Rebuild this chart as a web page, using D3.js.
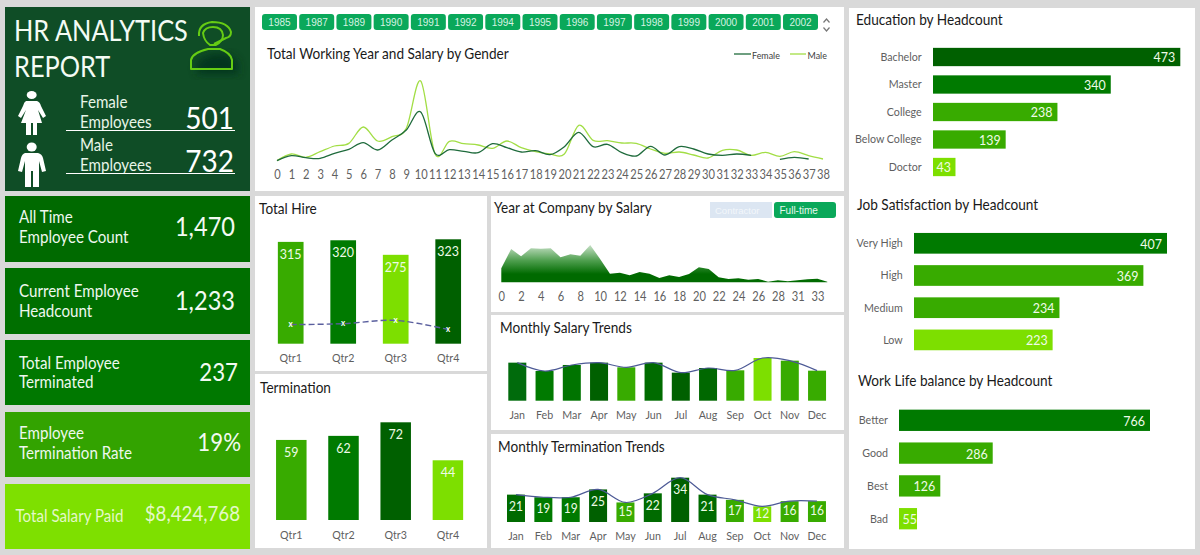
<!DOCTYPE html>
<html>
<head>
<meta charset="utf-8">
<script src="https://cdn.jsdelivr.net/npm/d3@7"></script>
<style>
  html, body { margin: 0; padding: 0; background: #d9d9d9; }
  svg { display: block; }
  text { font-family: Lato, "Open Sans", sans-serif; }
  .axis text { fill: #5f5f5f; font-family: Lato, sans-serif; }
  .axis path, .axis line { display: none; }
</style>
</head>
<body>
<svg id="dash" width="1200" height="555"></svg>
<script>
// Slicer years and KPI figures
const sliceYears = ["1985","1987","1989","1990","1991","1992","1994","1995","1996","1997","1998","1999","2000","2001","2002"];
const femaleEmployees = 501;
const maleEmployees = 732;
const kpiLabels = [["All Time","Employee Count"],["Current Employee","Headcount"],["Total Employee","Terminated"],["Employee","Termination Rate"],["Total Salary Paid"]];
const kpiValues = ["1,470","1,233","237","19%","$8,424,768"];

// Total working years vs salary by gender (salary in arbitrary thousands)
const workingYears = d3.range(0, 39).map(String);
const femaleSalary = [18,33,27,25,40,52,72,50,80,110,164,40,51,46,42,69,57,44,48,36,60,103,60,67,42,32,61,35,60,53,38,34,38,34,null,22,28,23,null];
const maleSalary = [18,38,28,45,62,70,119,77,90,115,257,38,76,69,65,55,77,57,45,38,38,124,79,78,71,70,53,40,44,35,26,49,50,34,43,31,45,33,23];

// Quarterly hires and terminations
const quarters = ["Qtr1","Qtr2","Qtr3","Qtr4"];
const hires = [315,320,275,323];
const terminations = [59,62,72,44];

// Years at company by salary
const companyYears = ["0","1","2","3","4","5","6","7","8","9","10","11","12","13","14","15","16","17","18","19","20","21","22","23","24","25","26","27","28","29","31","32","33","34"];
const companySalary = [42,100,78,102,101,102,75,84,80,112,70,26,29,21,31,26,13,21,16,25,45,40,15,10,12,8,10,2,6,3,6,9,11,2];

// Monthly trends
const months = ["Jan","Feb","Mar","Apr","May","Jun","Jul","Aug","Sep","Oct","Nov","Dec"];
const monthlySalary = [769,600,722,769,675,769,567,661,614,863,809,607];
const monthlyTerminations = [21,19,19,25,15,22,34,21,17,12,16,16];

// Headcount breakdowns
const educationLevels = ["Bachelor","Master","College","Below College","Doctor"];
const educationCounts = [473,340,238,139,43];
const satisfactionLevels = ["Very High","High","Medium","Low"];
const satisfactionCounts = [407,369,234,223];
const balanceLevels = ["Better","Good","Best","Bad"];
const balanceCounts = [766,286,126,55];

// Palette
const G1 = "#006000", G2 = "#007a00", G3 = "#38ab00", G4 = "#7ddf00";
const SLICER = "#0aa85a", BAR_LINE = "#4d5a96";
const monthlySalaryFill = ["#006b0c",G2,"#007400",G1,G3,"#006b00",G1,"#006800",G3,G4,G3,G3];
const monthlyTermFill = ["#006b00",G2,G2,G1,G3,"#006b00",G1,"#006b00",G3,G4,G3,G3];

const svg = d3.select("#dash");
const defs = svg.append("defs");

function panel(x, y, w, h, fill) {
  svg.append("rect").attr("x", x).attr("y", y).attr("width", w).attr("height", h).attr("fill", fill || "#fff");
}
function label(x, y, str, size, fill, anchor, family) {
  return svg.append("text").attr("x", x).attr("y", y).attr("dy", "0.35em")
    .attr("font-size", size).attr("fill", fill)
    .attr("text-anchor", anchor || "start")
    .attr("class", family ? "ui" : "lato")
    .style("font-family", family || null)
    .text(str);
}
function title(x, y, str) { return label(x, y, str, 15.3, "#1a1a1a"); }
// Evenly spaced bands described by first band centre, spacing and band width
function bands(domain, first, step, width) {
  const gap = 1 - width / step;
  return d3.scaleBand().domain(domain)
    .range([first - step / 2, first + step * (domain.length - 0.5)])
    .paddingInner(gap).paddingOuter(gap / 2);
}
function bottomAxis(scale, y, size, tickVals) {
  const ax = d3.axisBottom(scale).tickSize(0).tickPadding(0);
  if (tickVals) ax.tickValues(tickVals);
  const g = svg.append("g").attr("class", "axis").attr("transform", `translate(0,${y})`).call(ax);
  g.selectAll("text").attr("font-size", size).attr("y", 0).attr("dy", "0.35em").attr("class", "lato");
  return g;
}

// Panels
panel(5, 7, 245, 184, "#0f4d26");
panel(255, 7, 589, 184);
panel(255, 196, 232, 175);
panel(255, 374, 232, 174);
panel(491, 196, 353, 116);
panel(491, 315, 353, 115);
panel(491, 434, 353, 114);
panel(849, 8, 346, 541);

// Header block
label(14, 31, "HR ANALYTICS", 28.5, "#f4fbf4");
label(14, 67, "REPORT", 28.5, "#f4fbf4");

defs.append("filter").attr("id", "soft").attr("x", "-30%").attr("y", "-30%").attr("width", "160%").attr("height", "160%")
  .append("feGaussianBlur").attr("stdDeviation", 4);

// Headset agent icon with its shadow
const agentPaths = [
  "M191,69 L191,60 Q192,53 208,49 L220,49 Q231,53 232,60 L232,69 Z",
  "M203,33 Q205,27 213,27 Q222,27 223,35 Q223,41 216,45 L210,45 Q204,41 203,33 Z",
  "M199,36 Q198,24 212,22 Q228,22 231,32 Q231,37 226,38 L214,44"
];
svg.append("path").attr("d", agentPaths[0]).attr("fill", "#06301a").attr("opacity", 0.85)
  .attr("transform", "translate(6,5)").attr("filter", "url(#soft)");
agentPaths.forEach(d => svg.append("path").attr("d", d)
  .attr("fill", "none").attr("stroke", "#66cc14").attr("stroke-width", 2).attr("stroke-linejoin", "round"));

// Female figure
svg.append("ellipse").attr("cx", 31.7).attr("cy", 95).attr("rx", 5).attr("ry", 4).attr("fill", "#fff");
svg.append("path").attr("fill", "#fff")
  .attr("d", "M26,101 L37,101 Q40,102 41,106 L46,116 L43,118 L38,110 L42,123 L37,123 L37,135 L33,135 L33,123 L31,123 L31,135 L26,135 L26,123 L21,123 L26,110 L21,118 L18,116 L23,106 Q24,102 26,101 Z");
// Male figure
svg.append("ellipse").attr("cx", 31.7).attr("cy", 147).attr("rx", 5).attr("ry", 4.5).attr("fill", "#fff");
svg.append("path").attr("fill", "#fff")
  .attr("d", "M25,153 L38,153 Q42,154 43,158 L46,171 L42,172 L39,161 L39,187 L33,187 L33,171 L31,171 L31,187 L25,187 L25,161 L22,172 L18,171 L21,158 Q22,154 25,153 Z");

label(80, 102, "Female", 17, "#e8f5e8");
label(80, 122, "Employees", 17, "#e8f5e8");
label(234, 118, femaleEmployees, 31.5, "#fff", "end");
svg.append("line").attr("x1", 66).attr("x2", 235).attr("y1", 130.5).attr("y2", 130.5).attr("stroke", "#fff");
label(80, 145, "Male", 17, "#e8f5e8");
label(80, 165, "Employees", 17, "#e8f5e8");
label(234, 161, maleEmployees, 31.5, "#fff", "end");
svg.append("line").attr("x1", 66).attr("x2", 235).attr("y1", 173.5).attr("y2", 173.5).attr("stroke", "#fff");

// KPI cards
const kpiBoxes = [[196,66,"#006a00"],[268,66,"#006f00"],[340,65,"#007800"],[412,65,"#33a300"],[484,65,"#7ee000"]];
const kpiValueStyle = [[235,227,26.5],[235,301,26.5],[238,372,25],[241,442,25],[240,514,21]];
const kpiLabelY = [[217,237],[291,311],[363,382],[433,453],[516]];
kpiBoxes.forEach((b, i) => {
  panel(5, b[0], 245, b[1], b[2]);
  const lx = i === 4 ? 15.5 : 19;
  kpiLabels[i].forEach((t, j) => label(lx, kpiLabelY[i][j], t, 17, i === 4 ? "#e4f8c8" : "#eef8ee"));
  const s = kpiValueStyle[i];
  label(s[0], s[1], kpiValues[i], s[2], i === 4 ? "#e4f8c8" : "#f2faf2", "end");
});

// Year slicer
const slicerX = d3.scaleBand().domain(sliceYears).range([262, 818]).paddingInner(0.06);
svg.append("g").selectAll("rect").data(sliceYears).join("rect")
  .attr("x", d => slicerX(d)).attr("y", 14).attr("width", slicerX.bandwidth()).attr("height", 16)
  .attr("rx", 3).attr("fill", SLICER);
sliceYears.forEach(d => label(slicerX(d) + slicerX.bandwidth() / 2, 22.5, d, 10, "#d6f3e2", "middle", "'Liberation Sans', sans-serif"));
svg.append("path").attr("d", "M823.5,22.5 L826.5,19 L829.5,22.5 M823.5,27.5 L826.5,31 L829.5,27.5")
  .attr("fill", "none").attr("stroke", "#777").attr("stroke-width", 1.2);

// Working years line chart
title(267, 54, "Total Working Year and Salary by Gender");
const lineX = d3.scalePoint().domain(workingYears).range([277, 823]);
const lineY = d3.scaleLinear().domain([0, 300]).range([500 / 3, 200 / 3]);
const smooth = d3.line()
  .defined(d => d.v !== null)
  .x(d => lineX(d.k)).y(d => lineY(d.v))
  .curve(d3.curveCatmullRom.alpha(0));
const pairs = vals => vals.map((v, i) => ({ k: workingYears[i], v }));
svg.append("path").attr("d", smooth(pairs(maleSalary))).attr("fill", "none").attr("stroke", "#a2de45").attr("stroke-width", 1.3);
svg.append("path").attr("d", smooth(pairs(femaleSalary))).attr("fill", "none").attr("stroke", "#1f6b3c").attr("stroke-width", 1.3);
bottomAxis(lineX, 175, 12.5);

svg.append("line").attr("x1", 734).attr("x2", 751).attr("y1", 54).attr("y2", 54).attr("stroke", "#1f6b3c").attr("stroke-width", 1.3);
label(752, 55, "Female", 10, "#404040");
svg.append("line").attr("x1", 790).attr("x2", 806).attr("y1", 54).attr("y2", 54).attr("stroke", "#a2de45").attr("stroke-width", 1.3);
label(807.5, 55, "Male", 10, "#404040");

// Total hire columns with the termination line over them
title(259, 209, "Total Hire");
const hireX = bands(quarters, 290.7, 52.5, 25.7);
const hireY = d3.scaleLinear().domain([0, 323]).range([343.7, 239.3]);
const hireFill = [G3, G2, G4, G1];
svg.append("g").selectAll("rect").data(hires).join("rect")
  .attr("x", (d, i) => hireX(quarters[i])).attr("width", hireX.bandwidth())
  .attr("y", d => hireY(d)).attr("height", d => hireY(0) - hireY(d))
  .attr("fill", (d, i) => hireFill[i]);
hires.forEach((d, i) => label(hireX(quarters[i]) + hireX.bandwidth() / 2, hireY(d) + 12, d, 14, "#eefbe6", "middle"));
const hireCx = q => hireX(q) + hireX.bandwidth() / 2;
const hireLine = d3.line().x((d, i) => hireCx(quarters[i])).y(d => hireY(d)).curve(d3.curveCatmullRom);
svg.append("path").attr("d", hireLine(terminations)).attr("fill", "none")
  .attr("stroke", "#5a5f9e").attr("stroke-width", 1.4).attr("stroke-dasharray", "6,3");
terminations.forEach((d, i) => label(hireCx(quarters[i]), hireY(d) - 0.5, "x", 9, "#fff", "middle").attr("font-weight", 700));
bottomAxis(hireX, 358, 12);

// Termination columns
title(260, 388, "Termination");
const termX = bands(quarters, 291.3, 52.2, 30.5);
const termY = d3.scaleLinear().domain([0, 72]).range([520, 422.3]);
const termFill = [G3, G2, G1, G4];
svg.append("g").selectAll("rect").data(terminations).join("rect")
  .attr("x", (d, i) => termX(quarters[i])).attr("width", termX.bandwidth())
  .attr("y", d => termY(d)).attr("height", d => termY(0) - termY(d))
  .attr("fill", (d, i) => termFill[i]);
terminations.forEach((d, i) => label(termX(quarters[i]) + termX.bandwidth() / 2, termY(d) + 12, d, 14, "#eefbe6", "middle"));
bottomAxis(termX, 534.5, 12);

// Years at company area
title(494, 208, "Year at Company by Salary");
panel(710, 202, 62, 16, "#dce6f2");
label(715, 210.5, "Contractor", 9.5, "#f3f7fb", "start", "'Liberation Sans', sans-serif");
svg.append("rect").attr("x", 774).attr("y", 202).attr("width", 62).attr("height", 16).attr("rx", 3).attr("fill", SLICER);
label(779.5, 210.5, "Full-time", 10, "#e6f8ee", "start", "'Liberation Sans', sans-serif");

const areaX = d3.scalePoint().domain(companyYears).range([501.3, 827.3]);
const areaY = d3.scaleLinear().domain([0, 120]).range([282.3, 242.3]);
const grad = defs.append("linearGradient").attr("id", "areaFade").attr("gradientUnits", "userSpaceOnUse")
  .attr("x1", 0).attr("x2", 0).attr("y1", 244).attr("y2", 274);
grad.append("stop").attr("offset", 0).attr("stop-color", "#cfe5cf");
grad.append("stop").attr("offset", 0.55).attr("stop-color", "#4f9f4f");
grad.append("stop").attr("offset", 1).attr("stop-color", "#006a00");
const area = d3.area().x((d, i) => areaX(companyYears[i])).y0(areaY(0)).y1(d => areaY(d));
svg.append("path").attr("d", area(companySalary)).attr("fill", "url(#areaFade)");
bottomAxis(areaX, 297, 12.5, companyYears.filter((d, i) => i % 2 === 0));

// Monthly columns, each with a smooth line across the tops
function monthly(values, fills, yScale, xScale, baseline) {
  svg.append("g").selectAll("rect").data(values).join("rect")
    .attr("x", (d, i) => xScale(months[i])).attr("width", xScale.bandwidth())
    .attr("y", d => yScale(d)).attr("height", d => baseline - yScale(d))
    .attr("fill", (d, i) => fills[i]);
  const ln = d3.line().x((d, i) => xScale(months[i]) + xScale.bandwidth() / 2).y(d => yScale(d)).curve(d3.curveCatmullRom);
  svg.append("path").attr("d", ln(values)).attr("fill", "none").attr("stroke", BAR_LINE).attr("stroke-width", 1.2);
}
title(500, 328, "Monthly Salary Trends");
const salaryX = bands(months, 517.3, 27.25, 18);
const salaryY = d3.scaleLinear().domain([0, 863]).range([400.7, 358]);
monthly(monthlySalary, monthlySalaryFill, salaryY, salaryX, 400.7);
bottomAxis(salaryX, 415, 12);

title(498, 447, "Monthly Termination Trends");
const mtermX = bands(months, 516, 27.36, 18);
const mtermY = d3.scaleLinear().domain([0, 34]).range([522, 477.7]);
monthly(monthlyTerminations, monthlyTermFill, mtermY, mtermX, 522);
monthlyTerminations.forEach((d, i) => {
  const top = mtermY(d), h = 522 - top;
  label(mtermX(months[i]) + mtermX.bandwidth() / 2, top + Math.min(11.5, h * 0.45), d, 13.5, "#eefbe6", "middle");
});
bottomAxis(mtermX, 536, 12);

// Horizontal headcount bars
function hbars(names, values, fills, cfg) {
  const y = bands(names, cfg.first, cfg.step, cfg.height);
  const x = d3.scaleLinear().domain([0, cfg.max]).range([cfg.x0, cfg.x1]);
  svg.append("g").selectAll("rect").data(values).join("rect")
    .attr("x", cfg.x0).attr("y", (d, i) => y(names[i])).attr("height", y.bandwidth())
    .attr("width", d => x(d) - cfg.x0).attr("fill", (d, i) => fills[i]);
  const ax = svg.append("g").attr("class", "axis").attr("transform", `translate(${cfg.labelX},0)`)
    .call(d3.axisLeft(y).tickSize(0).tickPadding(0));
  ax.selectAll("text").attr("font-size", 12).attr("x", 0).attr("class", "lato");
  values.forEach((d, i) => {
    const cy = y(names[i]) + y.bandwidth() / 2;
    label(Math.max(x(d) - 5, cfg.x0 + 18), cy + 0.5, d, 14, "#f0fbe8", "end");
  });
}
title(856, 20, "Education by Headcount");
hbars(educationLevels, educationCounts, [G1, G2, G3, G3, G4],
  { first: 57, step: 27.5, height: 18.3, x0: 933, x1: 1180.3, max: 473, labelX: 921.7 });
title(857, 204.5, "Job Satisfaction by Headcount");
hbars(satisfactionLevels, satisfactionCounts, [G2, G3, G3, G4],
  { first: 243.3, step: 32.2, height: 20.7, x0: 914, x1: 1167, max: 407, labelX: 902.7 });
title(858, 380.5, "Work Life balance by Headcount");
hbars(balanceLevels, balanceCounts, [G2, G3, G3, G4],
  { first: 420.3, step: 32.8, height: 21.3, x0: 899, x1: 1150, max: 766, labelX: 888 });

// Lato runs wide here, so narrow every label a little
svg.selectAll("text.lato").each(function () {
  const len = this.getComputedTextLength();
  d3.select(this).attr("textLength", len * 0.89).attr("lengthAdjust", "spacingAndGlyphs");
});
</script>
</body>
</html>
